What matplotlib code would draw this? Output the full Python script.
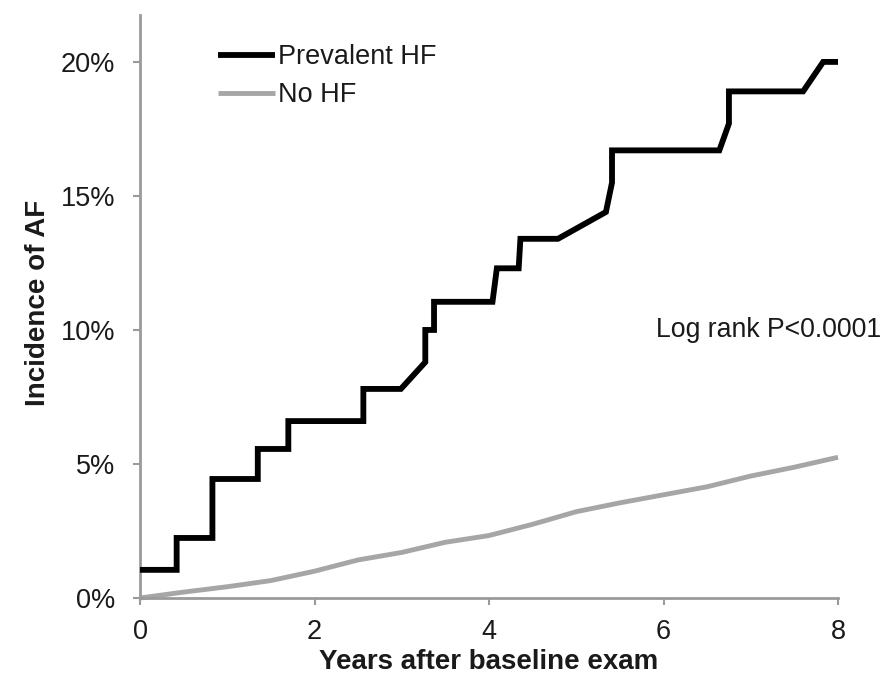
import numpy as np
import matplotlib
matplotlib.use("Agg")
import matplotlib.pyplot as plt

plt.rcParams['font.family'] = ['Liberation Sans', 'DejaVu Sans']

# Prevalent HF: Kaplan-Meier style step curve (years, % incidence)
hf_years = [0, 0.42, 0.42, 0.83, 0.83, 1.35, 1.35, 1.70, 1.70, 2.56, 2.56, 2.99, 3.27,
            3.27, 3.37, 3.37, 4.04, 4.09, 4.34, 4.36, 4.79, 5.34, 5.41, 5.41, 6.64,
            6.75, 6.75, 7.60, 7.83, 8.0]
hf_pct = [1.05, 1.05, 2.24, 2.24, 4.44, 4.44, 5.56, 5.56, 6.6, 6.6, 7.8, 7.8, 8.8,
          10.0, 10.0, 11.05, 11.05, 12.3, 12.3, 13.4, 13.4, 14.4, 15.5, 16.7, 16.7,
          17.7, 18.9, 18.9, 20.0, 20.0]

# No HF: smooth curve
nohf_years = [0, 0.5, 1, 1.5, 2, 2.5, 3, 3.5, 4, 4.5, 5, 5.5, 6, 6.5, 7, 7.5, 8]
nohf_pct = [0, 0.22, 0.42, 0.65, 1.0, 1.42, 1.7, 2.08, 2.33, 2.75, 3.22, 3.55,
            3.85, 4.15, 4.55, 4.88, 5.25]

xticks = [0, 2, 4, 6, 8]
yticks = [0, 5, 10, 15, 20]
ytick_labels = ['0%', '5%', '10%', '15%', '20%']

fig = plt.figure(figsize=(8.92, 6.82), dpi=100)
ax = fig.add_axes([140 / 892, 84 / 682, 698 / 892, 583 / 682])

ax.plot(hf_years, hf_pct, color='black', lw=4.2, solid_joinstyle='miter',
        solid_capstyle='butt', clip_on=False, label='Prevalent HF', zorder=3)
ax.plot(nohf_years, nohf_pct, color='#a6a6a6', lw=3.5, solid_capstyle='butt',
        clip_on=False, label='No HF', zorder=2)

ax.set_xlim(0, 8)
ax.set_ylim(0, 21.75)
ax.set_xticks(xticks)
ax.set_yticks(yticks)
ax.set_yticklabels(ytick_labels)

for side in ['top', 'right']:
    ax.spines[side].set_visible(False)
for side in ['left', 'bottom']:
    ax.spines[side].set_color('#9a9a9a')
    ax.spines[side].set_linewidth(2)

ax.tick_params(axis='both', colors='#9a9a9a', width=1.5, length=5,
               labelsize=19.5, labelcolor='#1a1a1a')
ax.tick_params(axis='y', pad=13)
ax.tick_params(axis='x', pad=10)

ax.set_xlabel('Years after baseline exam', fontsize=20, fontweight='bold', color='#1a1a1a')
ax.set_ylabel('Incidence of AF', fontsize=20, fontweight='bold', color='#1a1a1a')
ax.xaxis.set_label_coords(0.5, -0.088)
ax.yaxis.set_label_coords(-0.128, 0.506)

ax.text(5.91, 10.0, 'Log rank P<0.0001', fontsize=19.2, color='#1a1a1a',
        ha='left', va='center', clip_on=False)

leg = ax.legend(loc='upper left', bbox_to_anchor=(0.112, 0.95), frameon=False,
                fontsize=19.5, handlelength=2.1, handletextpad=0.12,
                labelspacing=0.45, borderpad=0, borderaxespad=0)
for t in leg.get_texts():
    t.set_color('#1a1a1a')

fig.savefig('out.png', dpi=100)
